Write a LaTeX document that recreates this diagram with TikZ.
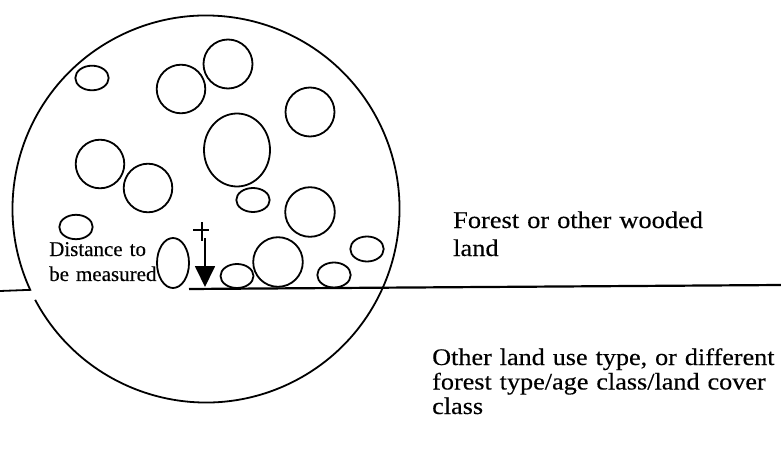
\documentclass[tikz,border=0pt]{standalone}
\usepackage{fontspec}
\setmainfont{Liberation Serif}[FakeBold=0.3]
\newfontfamily\widefont{Liberation Serif}[FakeStretch=1.1, FakeBold=0.3]
\usepackage{tikz}
\usetikzlibrary{arrows.meta}

\begin{document}
\begin{tikzpicture}[x=1pt, y=1pt,
  crown/.style={line width=1.8pt},
  border/.style={line width=2.2pt},
  smalltext/.style={inner sep=0pt, anchor=base west, align=left, text width=120pt,
    font=\fontsize{21}{25}\selectfont},
  bigtext/.style={inner sep=0pt, anchor=base west, align=left, text width=360pt}]
\useasboundingbox (0,0) rectangle (781,453);
% sample plot with the land-use border cutting through it
\coordinate (centre) at (206,244);
\draw[crown] (centre) ++(208:193.5) arc[start angle=208, end angle=564.7, radius=193.5] -- (0,162);
\draw[border] (189,164) -- (781,168);
% tree crowns inside the plot
\foreach \cx/\cy/\rx/\ry in {92/375/16.7/12.3, 181/364/24.3/24.3, 228/389/24.5/24.5,
    310/341/24.5/24.5, 237/303/33/36.5, 100/289/24.3/24.3, 148/265/24.3/24.3,
    253/253/16.7/12, 310/241/24.8/24.8, 76/226/16.7/12.2, 173/190/16/25,
    237/177/16.5/12, 278/191/24.8/24.8, 334/178/16.7/12.5, 367/204/16.7/12.5}
  \draw[crown] (\cx,\cy) ellipse[x radius=\rx, y radius=\ry];
% distance from the plot centre to the border
\draw[line width=1.2pt] (193,223) -- (209,223) (202,231) -- (202,212);
\coordinate (plot) at (205,215);
\coordinate (foot) at (205,166);
\draw[line width=1.8pt, -{Triangle[length=21pt, width=20pt]}] (plot) -- (foot);
\node[smalltext] (dist) at (49,197) {Distance to\\be measured};
% the two land classes
\node[bigtext, font=\widefont\fontsize{24}{28}\selectfont] (forest) at (453,225) {Forest or other wooded\\land};
\node[bigtext, font=\widefont\fontsize{23.8}{24.5}\selectfont] (other) at (432,88)
  {Other land use type, or different\\forest type/age class/land cover\\class};
\end{tikzpicture}
\end{document}
